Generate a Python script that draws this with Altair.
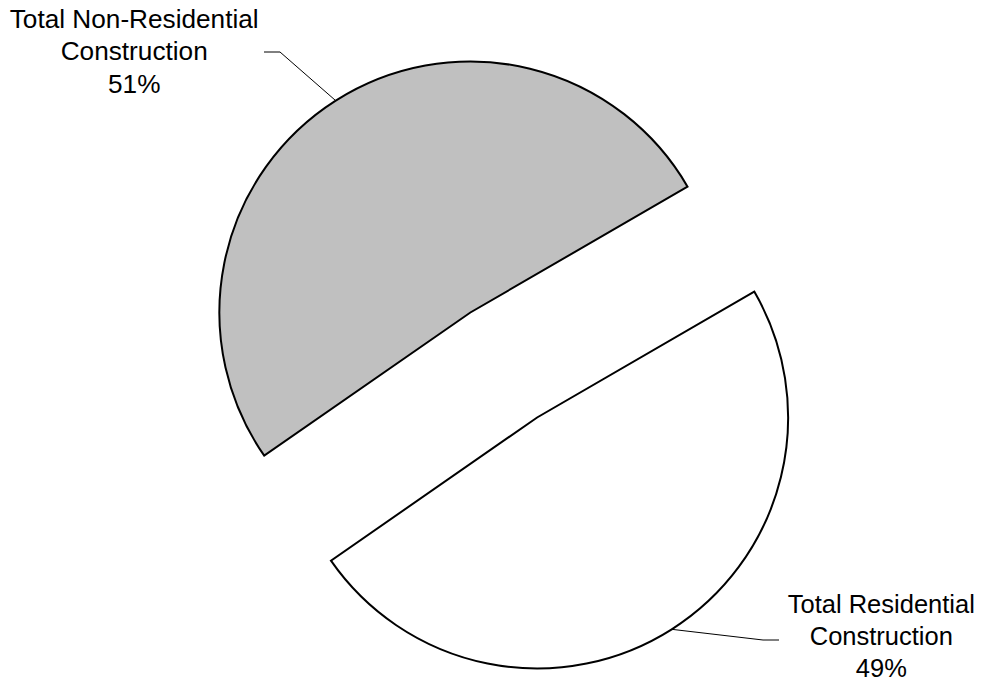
import math
import altair as alt
import pandas as pd

# ---- data ----
categories = ["Total Residential Construction", "Total Non-Residential Construction"]
shares = [48.7, 51.3]
label_lines = [["Total Residential", "Construction"], ["Total Non-Residential", "Construction"]]
fills = ["#FFFFFF", "#C0C0C0"]

# ---- layout (plot-area pixels) ----
W, H = 968, 669
CX, CY = 495.75, 357.0
R = 251
EXPLODE = 62.2
START = math.radians(59.9)
LABEL_POS = [(873.3, 605.0), (126.2, 19.8)]           # centre x, first baseline
LABEL_SIZE = [25.5, 26.2]
LABEL_LH = [31.8, 32.7]
LEADER_END = [((771.0, 632.0), (755.0, 632.0)), ((256.0, 44.0), (272.0, 44.0))]
FONT = "Liberation Sans"

pie_df = pd.DataFrame({"category": categories, "value": shares, "order": range(len(categories))})

total = sum(shares)
lead_rows = []
label_layers = []
cum = 0.0
for i, (cat, v) in enumerate(zip(categories, shares)):
    t0, t1 = cum / total, (cum + v) / total
    cum += v
    mid = START + math.pi * (t0 + t1)
    vx = CX + EXPLODE * math.sin(mid)
    vy = CY - EXPLODE * math.cos(mid)
    ax = vx + R * math.sin(mid)
    ay = vy - R * math.cos(mid)
    lx, ly = LABEL_POS[i]
    lab_df = pd.DataFrame([{"category": cat, "x": lx, "y": ly,
                            "text": label_lines[i] + [f"{round(100 * v / total)}%"]}])
    label_layers.append(
        alt.Chart(lab_df).mark_text(
            font=FONT, fontSize=LABEL_SIZE[i], align="center", baseline="alphabetic",
            lineHeight=LABEL_LH[i], color="#000000"
        ).encode(
            x=alt.X("x:Q", scale=None),
            y=alt.Y("y:Q", scale=None),
            text="text",
        )
    )
    (ex, ey), (bx, by) = LEADER_END[i]
    for k, (px, py) in enumerate([(ex, ey), (bx, by), (ax, ay)]):
        lead_rows.append({"category": cat, "k": k, "x": px, "y": py})

lead_df = pd.DataFrame(lead_rows)

two_pi = 2 * math.pi
pie = alt.Chart(pie_df).transform_joinaggregate(
    total="sum(value)"
).transform_window(
    cum="sum(value)", sort=[alt.SortField("order")], frame=[None, 0]
).transform_calculate(
    t1="datum.cum / datum.total",
    t0="(datum.cum - datum.value) / datum.total",
).transform_calculate(
    mid=f"{START} + PI * (datum.t0 + datum.t1)",
).transform_calculate(
    cx=f"{CX} + {EXPLODE} * sin(datum.mid)",
    cy=f"{CY} - {EXPLODE} * cos(datum.mid)",
).mark_arc(radius=R, stroke="#000000", strokeWidth=2, strokeJoin="miter").encode(
    theta=alt.Theta("t0:Q", scale=alt.Scale(domain=[0, 1], range=[START, START + two_pi])),
    theta2="t1:Q",
    x=alt.X("cx:Q", scale=None),
    y=alt.Y("cy:Q", scale=None),
    fill=alt.Fill("category:N", scale=alt.Scale(domain=categories, range=fills), legend=None),
)

leaders = alt.Chart(lead_df).mark_line(color="#000000", strokeWidth=1).encode(
    x=alt.X("x:Q", scale=None),
    y=alt.Y("y:Q", scale=None),
    detail="category:N",
    order="k:Q",
)

chart = alt.layer(pie, leaders, *label_layers).properties(
    width=W, height=H, padding=0, autosize=alt.AutoSizeParams(type="none")
).configure_view(stroke=None)

chart.save("out.html", embed_options={"renderer": "svg", "actions": False})
